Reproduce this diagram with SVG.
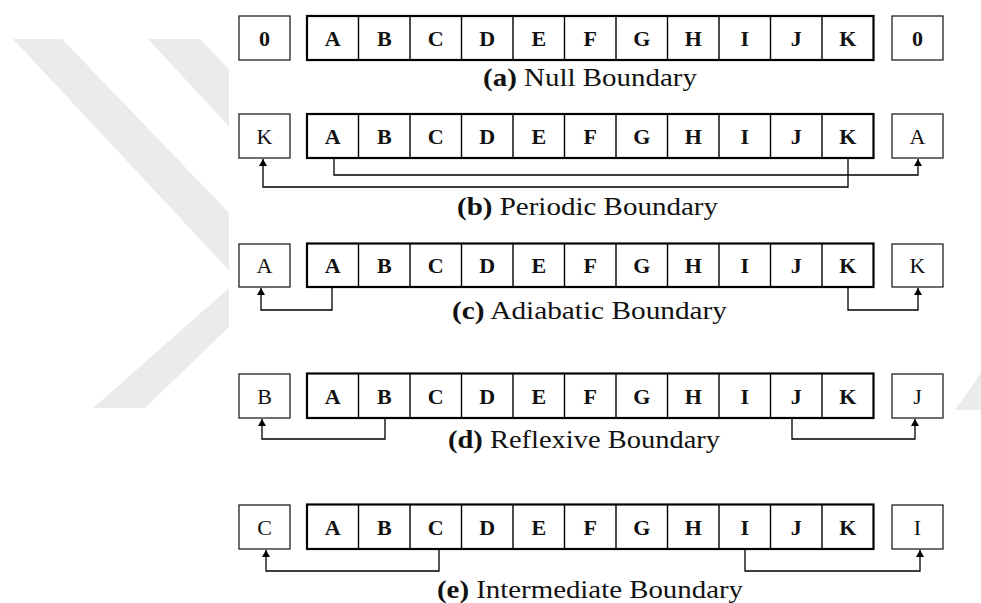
<svg xmlns="http://www.w3.org/2000/svg" width="981" height="603" viewBox="0 0 981 603">
<style>
.arr{fill:#fff;stroke:#000;stroke-width:2.2}
.div{stroke:#000;stroke-width:1.4}
.box{fill:#fff;stroke:#222;stroke-width:1.3}
.cl{font-family:"Liberation Serif","Times New Roman",serif;font-size:22px;font-weight:bold;text-anchor:middle;fill:#111}
.bl{font-family:"Liberation Serif","Times New Roman",serif;font-size:22px;text-anchor:middle;fill:#111}
.cap{font-family:"Liberation Serif","Times New Roman",serif;font-size:25px;fill:#111}
.cap tspan.b{font-weight:bold}
.con{fill:none;stroke:#000;stroke-width:1.3}
.wm{fill:#ebebeb}
</style>
<defs>
<marker id="ah" markerUnits="userSpaceOnUse" markerWidth="10" markerHeight="10" refX="7" refY="4" orient="auto">
<path d="M0,0 L7,4 L0,8 Z" fill="#000"/>
</marker>
<clipPath id="wmclip"><rect x="0" y="0" width="229" height="603"/></clipPath>
</defs>
<rect width="981" height="603" fill="#fff"/>
<g id="watermark" clip-path="url(#wmclip)">
<polygon class="wm" points="13,39 62,39 286,272 145,408 93,408 238,280"/>
<polygon class="wm" points="148,39 200,39 420,268 360,268"/>
</g>
<polygon class="wm" points="955,410 981,373 981,410"/>

<g id="row-a">
<g id="a-left"><rect class="box" x="239" y="16" width="51" height="44"/><text class="cl" x="264.5" y="46">0</text></g>
<g id="a-array">
<rect class="arr" x="307" y="16" width="566.5" height="44"/>
<path class="div" d="M358.5,16V60M410,16V60M461.5,16V60M513,16V60M564.5,16V60M616,16V60M667.5,16V60M719,16V60M770.5,16V60M822,16V60"/>
<text class="cl" x="332.75" y="46">A</text><text class="cl" x="384.25" y="46">B</text><text class="cl" x="435.75" y="46">C</text><text class="cl" x="487.25" y="46">D</text><text class="cl" x="538.75" y="46">E</text><text class="cl" x="590.25" y="46">F</text><text class="cl" x="641.75" y="46">G</text><text class="cl" x="693.25" y="46">H</text><text class="cl" x="744.75" y="46">I</text><text class="cl" x="796.25" y="46">J</text><text class="cl" x="847.75" y="46">K</text>
</g>
<g id="a-right"><rect class="box" x="892" y="16" width="51" height="44"/><text class="cl" x="917.5" y="46">0</text></g>
<text class="cap" x="483" y="86" textLength="214" lengthAdjust="spacingAndGlyphs"><tspan class="b">(a)</tspan> Null Boundary</text>
</g>

<g id="row-b">
<g id="b-left"><rect class="box" x="239" y="114" width="51" height="44"/><text class="bl" x="264.5" y="144">K</text></g>
<g id="b-array">
<rect class="arr" x="307" y="114" width="566.5" height="44"/>
<path class="div" d="M358.5,114V158M410,114V158M461.5,114V158M513,114V158M564.5,114V158M616,114V158M667.5,114V158M719,114V158M770.5,114V158M822,114V158"/>
<text class="cl" x="332.75" y="144">A</text><text class="cl" x="384.25" y="144">B</text><text class="cl" x="435.75" y="144">C</text><text class="cl" x="487.25" y="144">D</text><text class="cl" x="538.75" y="144">E</text><text class="cl" x="590.25" y="144">F</text><text class="cl" x="641.75" y="144">G</text><text class="cl" x="693.25" y="144">H</text><text class="cl" x="744.75" y="144">I</text><text class="cl" x="796.25" y="144">J</text><text class="cl" x="847.75" y="144">K</text>
</g>
<g id="b-right"><rect class="box" x="892" y="114" width="51" height="44"/><text class="bl" x="917.5" y="144">A</text></g>
<text class="cap" x="457" y="215" textLength="261" lengthAdjust="spacingAndGlyphs"><tspan class="b">(b)</tspan> Periodic Boundary</text>
</g>

<g id="row-c">
<g id="c-left"><rect class="box" x="239" y="244" width="51" height="43"/><text class="bl" x="264.5" y="273">A</text></g>
<g id="c-array">
<rect class="arr" x="307" y="243.5" width="566.5" height="43.5"/>
<path class="div" d="M358.5,243.5V287M410,243.5V287M461.5,243.5V287M513,243.5V287M564.5,243.5V287M616,243.5V287M667.5,243.5V287M719,243.5V287M770.5,243.5V287M822,243.5V287"/>
<text class="cl" x="332.75" y="273">A</text><text class="cl" x="384.25" y="273">B</text><text class="cl" x="435.75" y="273">C</text><text class="cl" x="487.25" y="273">D</text><text class="cl" x="538.75" y="273">E</text><text class="cl" x="590.25" y="273">F</text><text class="cl" x="641.75" y="273">G</text><text class="cl" x="693.25" y="273">H</text><text class="cl" x="744.75" y="273">I</text><text class="cl" x="796.25" y="273">J</text><text class="cl" x="847.75" y="273">K</text>
</g>
<g id="c-right"><rect class="box" x="892" y="244" width="51" height="43"/><text class="bl" x="917.5" y="273">K</text></g>
<text class="cap" x="452" y="319" textLength="275" lengthAdjust="spacingAndGlyphs"><tspan class="b">(c)</tspan> Adiabatic Boundary</text>
</g>

<g id="row-d">
<g id="d-left"><rect class="box" x="239" y="374" width="51" height="44"/><text class="bl" x="264.5" y="404">B</text></g>
<g id="d-array">
<rect class="arr" x="307" y="373.5" width="566.5" height="44.5"/>
<path class="div" d="M358.5,373.5V418M410,373.5V418M461.5,373.5V418M513,373.5V418M564.5,373.5V418M616,373.5V418M667.5,373.5V418M719,373.5V418M770.5,373.5V418M822,373.5V418"/>
<text class="cl" x="332.75" y="404">A</text><text class="cl" x="384.25" y="404">B</text><text class="cl" x="435.75" y="404">C</text><text class="cl" x="487.25" y="404">D</text><text class="cl" x="538.75" y="404">E</text><text class="cl" x="590.25" y="404">F</text><text class="cl" x="641.75" y="404">G</text><text class="cl" x="693.25" y="404">H</text><text class="cl" x="744.75" y="404">I</text><text class="cl" x="796.25" y="404">J</text><text class="cl" x="847.75" y="404">K</text>
</g>
<g id="d-right"><rect class="box" x="892" y="374" width="51" height="44"/><text class="bl" x="917.5" y="404">J</text></g>
<text class="cap" x="448" y="448" textLength="272" lengthAdjust="spacingAndGlyphs"><tspan class="b">(d)</tspan> Reflexive Boundary</text>
</g>

<g id="row-e">
<g id="e-left"><rect class="box" x="239" y="505" width="51" height="44"/><text class="bl" x="264.5" y="535">C</text></g>
<g id="e-array">
<rect class="arr" x="307" y="504.5" width="566.5" height="44.5"/>
<path class="div" d="M358.5,504.5V549M410,504.5V549M461.5,504.5V549M513,504.5V549M564.5,504.5V549M616,504.5V549M667.5,504.5V549M719,504.5V549M770.5,504.5V549M822,504.5V549"/>
<text class="cl" x="332.75" y="535">A</text><text class="cl" x="384.25" y="535">B</text><text class="cl" x="435.75" y="535">C</text><text class="cl" x="487.25" y="535">D</text><text class="cl" x="538.75" y="535">E</text><text class="cl" x="590.25" y="535">F</text><text class="cl" x="641.75" y="535">G</text><text class="cl" x="693.25" y="535">H</text><text class="cl" x="744.75" y="535">I</text><text class="cl" x="796.25" y="535">J</text><text class="cl" x="847.75" y="535">K</text>
</g>
<g id="e-right"><rect class="box" x="892" y="505" width="51" height="44"/><text class="bl" x="917.5" y="535">I</text></g>
<text class="cap" x="437" y="598" textLength="306" lengthAdjust="spacingAndGlyphs"><tspan class="b">(e)</tspan> Intermediate Boundary</text>
</g>

<g id="connectors">
<path class="con" d="M334,158V175H918V159" marker-end="url(#ah)"/>
<path class="con" d="M848,158V187H263V159" marker-end="url(#ah)"/>
<path class="con" d="M332,287V310H261V288" marker-end="url(#ah)"/>
<path class="con" d="M848,287V310H918V288" marker-end="url(#ah)"/>
<path class="con" d="M385,418V439H262V419" marker-end="url(#ah)"/>
<path class="con" d="M792,418V439H915V419" marker-end="url(#ah)"/>
<path class="con" d="M439,549V571H266V550" marker-end="url(#ah)"/>
<path class="con" d="M745,549V571H920V550" marker-end="url(#ah)"/>
</g>
</svg>
